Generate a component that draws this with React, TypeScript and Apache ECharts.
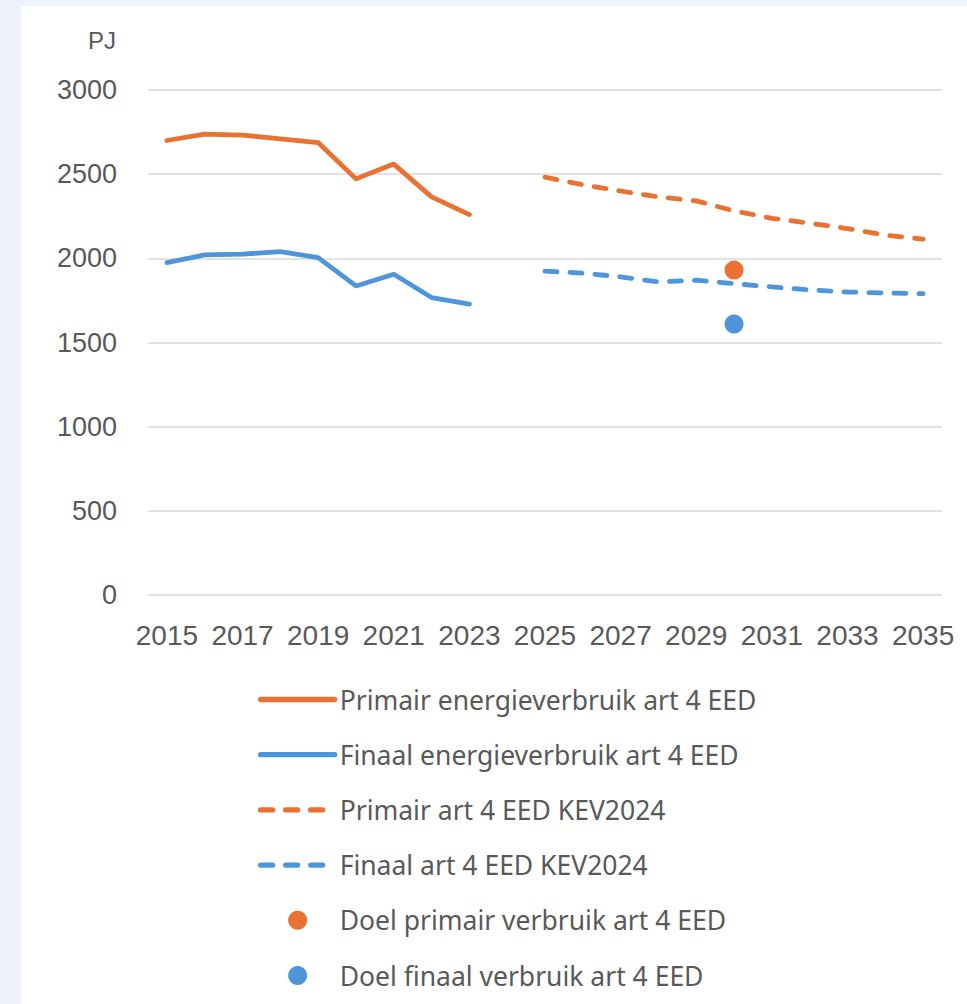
import React, { useEffect, useRef } from "react";
import * as echarts from "echarts";

const years = ["2015","2016","2017","2018","2019","2020","2021","2022","2023","2024","2025","2026","2027","2028","2029","2030","2031","2032","2033","2034","2035"];
const primairActual = [2700, 2738, 2732, 2710, 2688, 2472, 2560, 2365, 2260, null, null, null, null, null, null, null, null, null, null, null, null];
const finaalActual = [1975, 2020, 2025, 2040, 2004, 1836, 1905, 1767, 1728, null, null, null, null, null, null, null, null, null, null, null, null];
const primairKev = [null, null, null, null, null, null, null, null, null, null, 2482, 2437, 2400, 2365, 2341, 2282, 2238, 2209, 2177, 2138, 2114];
const finaalKev = [null, null, null, null, null, null, null, null, null, null, 1924, 1912, 1890, 1860, 1870, 1850, 1830, 1812, 1800, 1794, 1790];
const doelPrimair = [["2030", 1930]];
const doelFinaal = [["2030", 1610]];
const seriesNames = [
  "Primair energieverbruik art 4 EED",
  "Finaal energieverbruik art 4 EED",
  "Primair art 4 EED KEV2024",
  "Finaal art 4 EED KEV2024",
  "Doel primair verbruik art 4 EED",
  "Doel finaal verbruik art 4 EED",
];

const ORANGE = "#E97132";
const BLUE = "#4E95D9";
const TEXT = "#595959";
const AXIS_FONT = "'Liberation Sans', Arial, sans-serif";
const LEGEND_FONT = "'Noto Sans', sans-serif";
const DASH = [12, 13];
const LW = 4.8;

export default function App() {
  const ref = useRef<HTMLDivElement>(null);
  useEffect(() => {
    if (!ref.current) return;
    const chart = echarts.init(ref.current, null, { renderer: "svg" });
    const lineLegend = (name: string, color: string, dashed: boolean) => ({
      name,
      itemStyle: { opacity: 0 },
      lineStyle: { color, width: LW + 0.5, type: dashed ? DASH : "solid", cap: "round" },
    });
    chart.setOption({
      animation: false,
      backgroundColor: "#EEF2FA",
      graphic: [
        { type: "rect", z: -10, silent: true, shape: { x: 21, y: 6, width: 946, height: 998 }, style: { fill: "#FFFFFF" } },
      ],
      grid: { left: 148, right: 25, top: 90, bottom: 409, containLabel: false },
      xAxis: {
        type: "category",
        data: years,
        boundaryGap: true,
        axisLine: { show: false },
        axisTick: { show: false },
        axisLabel: { interval: 1, color: TEXT, fontSize: 28, fontFamily: AXIS_FONT, margin: 26 },
        splitLine: { show: false },
      },
      yAxis: {
        type: "value",
        min: 0,
        max: 3000,
        interval: 500,
        name: "PJ",
        nameLocation: "end",
        nameGap: 38,
        nameTextStyle: { color: TEXT, fontSize: 24, fontFamily: AXIS_FONT, align: "center", padding: [0, 92, 0, 0] },
        axisLine: { show: false },
        axisTick: { show: false },
        axisLabel: { color: TEXT, fontSize: 27, fontFamily: AXIS_FONT, margin: 31, formatter: (v: number) => String(v) },
        splitLine: { lineStyle: { color: "#D9D9D9", width: 1.5 } },
      },
      legend: {
        orient: "vertical",
        left: 258,
        top: 686,
        padding: 0,
        itemWidth: 74,
        itemHeight: 19,
        itemGap: 28.2,
        data: [
          lineLegend(seriesNames[0], ORANGE, false),
          lineLegend(seriesNames[1], BLUE, false),
          lineLegend(seriesNames[2], ORANGE, true),
          lineLegend(seriesNames[3], BLUE, true),
          { name: seriesNames[4] },
          { name: seriesNames[5] },
        ],
        textStyle: { color: TEXT, fontSize: 26.5, fontFamily: LEGEND_FONT },
      },
      series: [
        { name: seriesNames[0], type: "line", data: primairActual, showSymbol: false, symbol: "none", lineStyle: { color: ORANGE, width: LW, cap: "round", join: "round" }, itemStyle: { color: ORANGE } },
        { name: seriesNames[1], type: "line", data: finaalActual, showSymbol: false, symbol: "none", lineStyle: { color: BLUE, width: LW, cap: "round", join: "round" }, itemStyle: { color: BLUE } },
        { name: seriesNames[2], type: "line", data: primairKev, showSymbol: false, symbol: "none", lineStyle: { color: ORANGE, width: LW, type: DASH, cap: "round", join: "round" }, itemStyle: { color: ORANGE } },
        { name: seriesNames[3], type: "line", data: finaalKev, showSymbol: false, symbol: "none", lineStyle: { color: BLUE, width: LW, type: DASH, cap: "round", join: "round" }, itemStyle: { color: BLUE } },
        { name: seriesNames[4], type: "scatter", data: doelPrimair, symbol: "circle", symbolSize: 19, itemStyle: { color: ORANGE, opacity: 1 } },
        { name: seriesNames[5], type: "scatter", data: doelFinaal, symbol: "circle", symbolSize: 19, itemStyle: { color: BLUE, opacity: 1 } },
      ],
    });
    return () => chart.dispose();
  }, []);
  return (
    <div style={{ position: "fixed", left: 0, top: 0, width: 967, height: 1004 }}>
      <div ref={ref} style={{ width: 967, height: 1004 }} />
    </div>
  );
}
